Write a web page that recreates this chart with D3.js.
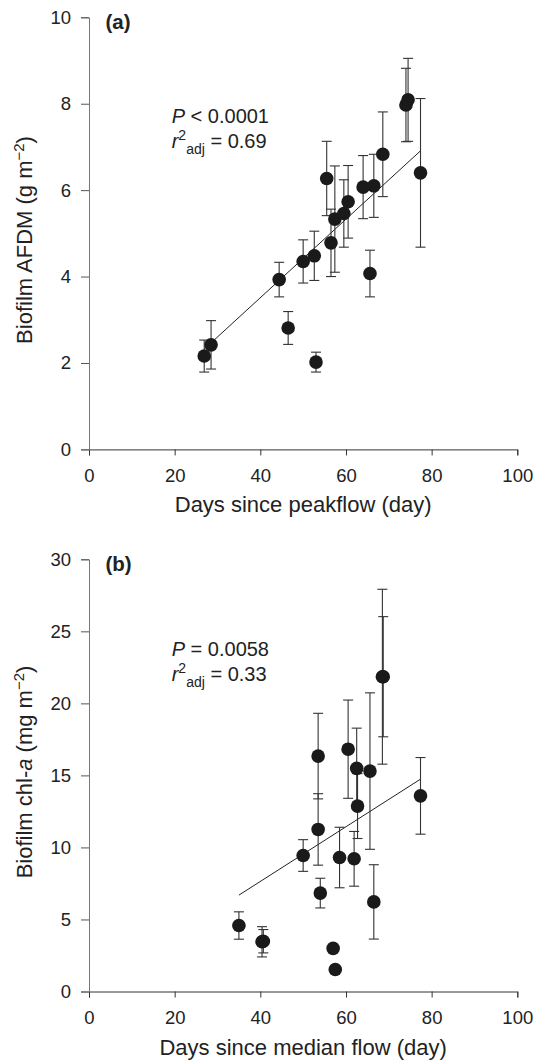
<!DOCTYPE html>
<html>
<head>
<meta charset="utf-8">
<script src="https://cdn.jsdelivr.net/npm/d3@7"></script>
<style>
  html, body { margin: 0; padding: 0; background: #fff; }
  svg { display: block; font-family: "Liberation Sans", Arial, Helvetica, sans-serif; }
</style>
</head>
<body>
<svg id="chart" width="535" height="1061"></svg>
<script>
// ---- Data ----
// Panel (a): Biofilm AFDM vs days since peakflow
const daysA = [26.9, 28.5, 44.4, 46.5, 50.0, 52.6, 53.0, 55.5, 56.5, 57.4, 59.5, 60.5, 64.0, 65.6, 66.5, 68.6, 74.0, 74.5, 77.4];
const afdm  = [2.16, 2.42, 3.93, 2.81, 4.35, 4.48, 2.02, 6.27, 4.78, 5.33, 5.46, 5.73, 6.07, 4.07, 6.10, 6.83, 7.97, 8.09, 6.40];
const afdmErr = [0.37, 0.56, 0.40, 0.38, 0.50, 0.57, 0.23, 0.86, 0.78, 1.23, 0.78, 0.84, 0.73, 0.54, 0.73, 0.98, 0.85, 0.96, 1.72];
const fitAX = [26.9, 77.4];
const fitAY = [2.32, 6.91];

// Panel (b): Biofilm chl-a vs days since median flow
const daysB = [35.0, 40.4, 40.7, 50.0, 53.5, 53.5, 54.0, 57.0, 57.5, 58.5, 60.5, 61.9, 62.5, 62.7, 65.6, 66.5, 68.5, 68.7, 77.4];
const chla  = [4.58, 3.45, 3.49, 9.44, 16.34, 11.25, 6.83, 2.99, 1.53, 9.30, 16.82, 9.21, 15.49, 12.87, 15.30, 6.22, 21.85, 21.85, 13.58];
const chlaErr = [0.95, 1.05, 0.81, 1.10, 2.97, 2.48, 1.03, 0, 0, 2.10, 3.41, 1.90, 2.79, 2.25, 5.43, 2.58, 6.07, 4.17, 2.66];
const fitBX = [35.0, 77.4];
const fitBY = [6.69, 14.74];

// Tick labels
const xTicks = [0, 20, 40, 60, 80, 100];
const yTicksA = [0, 2, 4, 6, 8, 10];
const yTicksB = [0, 5, 10, 15, 20, 25, 30];

// ---- Drawing ----
const svg = d3.select("#chart");
const textColor = "#222";
const x = d3.scaleLinear().domain([0, 100]).range([89, 517.3]);

function panel(cfg) {
  const y = d3.scaleLinear().domain(cfg.yDomain).range(cfg.yRange);
  const g = svg.append("g");

  // axes
  const xa = g.append("g")
    .attr("transform", `translate(0,${cfg.yRange[0]})`)
    .call(d3.axisBottom(x).tickValues(xTicks).tickSize(6).tickSizeOuter(6).tickPadding(13));
  xa.select(".domain").attr("stroke", "#333");
  xa.selectAll(".tick line").attr("stroke", "#333");
  xa.selectAll("text").attr("font-size", 18.5).attr("fill", textColor).attr("font-family", null);

  const ya = g.append("g")
    .attr("transform", `translate(${x(0)},0)`)
    .call(d3.axisLeft(y).tickValues(cfg.yTicks).tickSize(8).tickSizeOuter(8).tickPadding(10));
  ya.select(".domain").attr("stroke", "#777");
  ya.selectAll(".tick line").attr("stroke", "#555");
  ya.selectAll("text").attr("font-size", 18.5).attr("fill", textColor).attr("font-family", null);

  // fit line
  g.append("line")
    .attr("x1", x(cfg.fitX[0])).attr("y1", y(cfg.fitY[0]))
    .attr("x2", x(cfg.fitX[1])).attr("y2", y(cfg.fitY[1]))
    .attr("stroke", "#222").attr("stroke-width", 1);

  // error bars
  const data = cfg.xs.map((d, i) => ({ x: d, y: cfg.ys[i], e: cfg.es[i] })).filter(d => d.e > 0);
  const eb = g.append("g").attr("stroke", "#333").attr("stroke-width", 1.1);
  eb.selectAll("line.v").data(data).join("line")
    .attr("x1", d => x(d.x)).attr("x2", d => x(d.x))
    .attr("y1", d => y(d.y - d.e)).attr("y2", d => y(d.y + d.e));
  eb.selectAll("line.t").data(data).join("line").attr("class", "t")
    .attr("x1", d => x(d.x) - 5).attr("x2", d => x(d.x) + 5)
    .attr("y1", d => y(d.y + d.e)).attr("y2", d => y(d.y + d.e));
  eb.selectAll("line.b").data(data).join("line").attr("class", "b")
    .attr("x1", d => x(d.x) - 5).attr("x2", d => x(d.x) + 5)
    .attr("y1", d => y(d.y - d.e)).attr("y2", d => y(d.y - d.e));

  // points
  g.selectAll("circle").data(cfg.xs).join("circle")
    .attr("cx", d => x(d)).attr("cy", (d, i) => y(cfg.ys[i]))
    .attr("r", 6.8).attr("fill", "#1a1a1a");

  // panel label
  g.append("text").attr("x", 105.5).attr("y", cfg.labelY)
    .attr("font-size", 20.5).attr("font-weight", "bold").attr("fill", textColor)
    .text(cfg.label);

  // stats annotation
  const t1 = g.append("text").attr("x", 171.7).attr("y", cfg.statY).attr("font-size", 20).attr("fill", textColor);
  t1.append("tspan").attr("font-style", "italic").text("P");
  t1.append("tspan").text(cfg.pText);
  const t2 = g.append("text").attr("x", 171.7).attr("y", cfg.statY + 25.5).attr("font-size", 20).attr("fill", textColor);
  t2.append("tspan").attr("font-style", "italic").text("r");
  t2.append("tspan").attr("font-size", 14).attr("dy", -8).text("2");
  t2.append("tspan").attr("font-size", 14).attr("dy", 14).text("adj");
  t2.append("tspan").attr("dy", -6).text(cfg.rText);

  // x title
  g.append("text").attr("x", (x(0) + x(100)) / 2).attr("y", cfg.yRange[0] + 63)
    .attr("text-anchor", "middle").attr("font-size", 22).attr("fill", textColor)
    .text(cfg.xTitle);

  // y title
  const yt = g.append("text")
    .attr("transform", `translate(31.5,${cfg.yTitleC}) rotate(-90)`)
    .attr("text-anchor", "middle").attr("font-size", 22).attr("fill", textColor);
  cfg.yTitle(yt);
}

panel({
  yDomain: [0, 10], yRange: [449.4, 17.3], yTicks: yTicksA,
  xs: daysA, ys: afdm, es: afdmErr, fitX: fitAX, fitY: fitAY,
  label: "(a)", labelY: 28.5, statY: 122.7,
  pText: " < 0.0001", rText: " = 0.69",
  xTitle: "Days since peakflow (day)", yTitleC: 240,
  yTitle: t => {
    t.append("tspan").text("Biofilm AFDM (g m");
    t.append("tspan").attr("font-size", 15).attr("dy", -8).text("\u22122");
    t.append("tspan").attr("dy", 8).text(")");
  }
});

panel({
  yDomain: [0, 30], yRange: [991.5, 559.3], yTicks: yTicksB,
  xs: daysB, ys: chla, es: chlaErr, fitX: fitBX, fitY: fitBY,
  label: "(b)", labelY: 570.5, statY: 655.5,
  pText: " = 0.0058", rText: " = 0.33",
  xTitle: "Days since median flow (day)", yTitleC: 772,
  yTitle: t => {
    t.append("tspan").text("Biofilm chl-");
    t.append("tspan").attr("font-style", "italic").text("a");
    t.append("tspan").text(" (mg m");
    t.append("tspan").attr("font-size", 15).attr("dy", -8).text("\u22122");
    t.append("tspan").attr("dy", 8).text(")");
  }
});
</script>
</body>
</html>
